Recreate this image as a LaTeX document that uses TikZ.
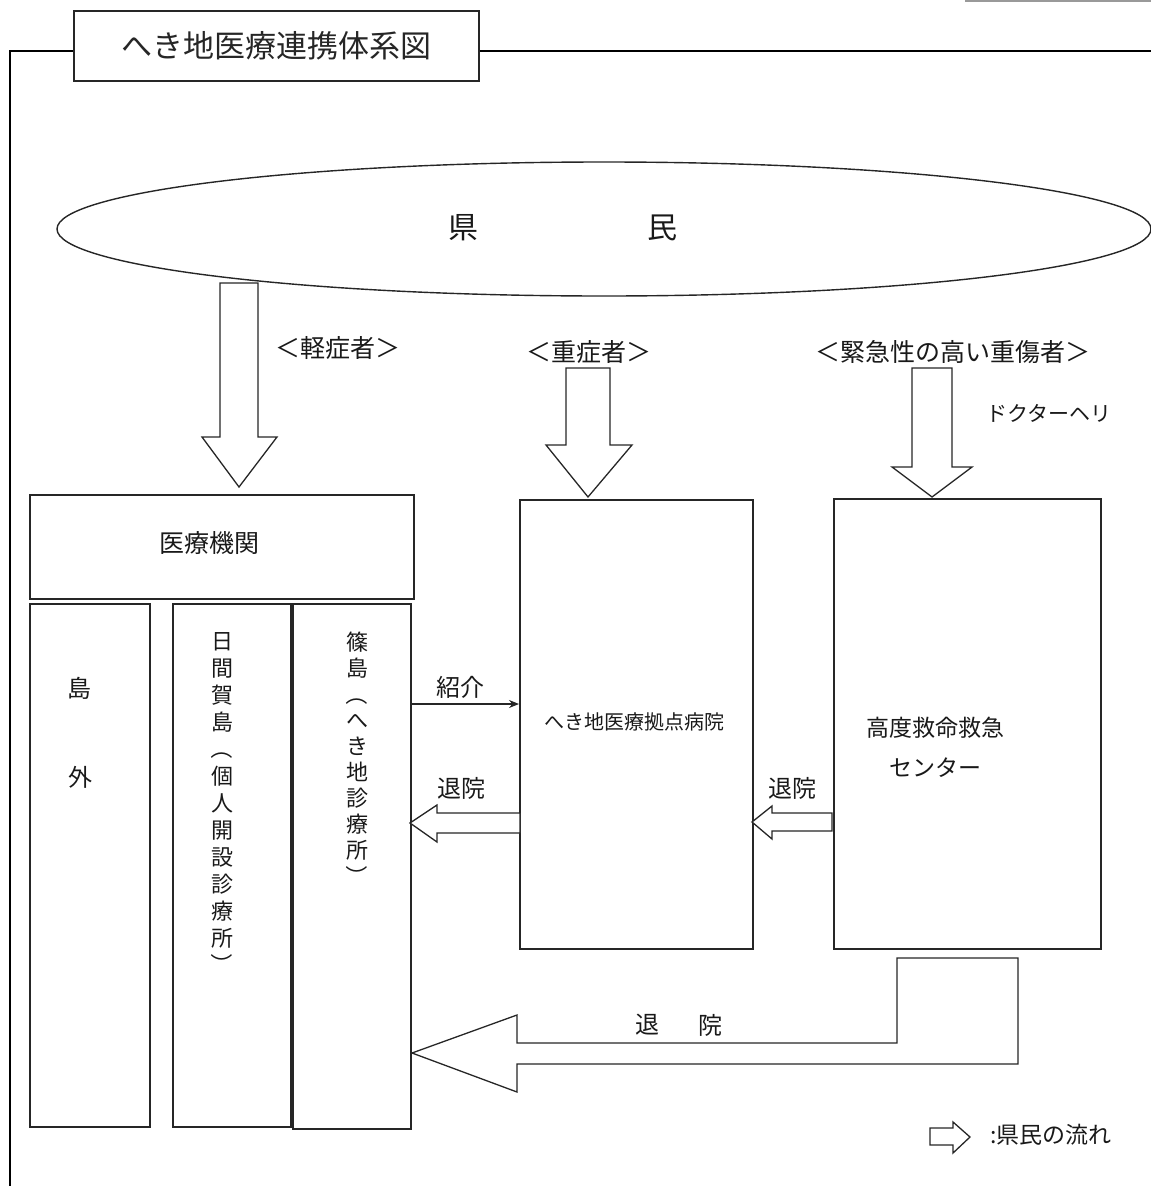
\documentclass[tikz,border=0pt]{standalone}
\usepackage{fontspec}
\usepackage{graphicx}
\newfontfamily\jp{Noto Sans CJK JP}
\usetikzlibrary{shapes.geometric,arrows.meta}
\tikzset{
  box/.style={draw=black!85, line width=1.5pt, inner sep=0pt, anchor=north west},
  blk/.style={draw=black!85, line width=1.3pt, fill=white, line join=miter},
  lbl/.style={text=black!90, inner sep=0pt},
}
\newcommand{\jfs}[1]{\jp\fontsize{#1}{#1}\selectfont}
\newcommand{\vlp}{\rotatebox[origin=c]{-90}{（}}
\newcommand{\vrp}{\rotatebox[origin=c]{-90}{）}}
\begin{document}
\begin{tikzpicture}[x=1pt,y=-1pt]
\useasboundingbox (0,0) rectangle (1151,1186);
% top-right stray line
\draw[black!40, line width=2pt] (965,1) -- (1151,1);
% title and frame
\node[box, minimum width=405pt, minimum height=70pt] (title) at (73,10) {};
\node[lbl, font=\jfs{31}, text=black!85] (titletext) at (title.center) {へき地医療連携体系図};
\coordinate (ftl) at (10,51);
\coordinate (fbl) at (10,1186);
\coordinate (ftr) at (1151,51);
\draw[black, line width=1.6pt] (title.west |- ftl) -- (ftl) -- (fbl);
\draw[black, line width=1.6pt] (title.east |- ftl) -- (ftr);
% ellipse
\node[draw=black!85, line width=1.4pt, ellipse, inner sep=0pt, minimum width=1094pt, minimum height=134pt] (kenmin) at (604,229) {};
\node[lbl, font=\jfs{30}] (ken) at (463,228) {県};
\node[lbl, font=\jfs{30}] (min) at (662,228) {民};
% boxes
\node[box, minimum width=384pt, minimum height=104pt] (iryo) at (29,494) {};
\node[lbl, font=\jfs{25}] (iryot) at (209,543) {医療機関};
\node[box, minimum width=120pt, minimum height=523pt] (c1) at (29,603) {};
\node[box, minimum width=118pt, minimum height=523pt] (c2) at (172,603) {};
\node[box, minimum width=118pt, minimum height=525pt] (c3) at (292,603) {};
\node[box, minimum width=233pt, minimum height=449pt] (hosp) at (519,499) {};
\node[box, minimum width=267pt, minimum height=450pt] (center) at (833,498) {};
% column texts
\node[lbl, font=\jfs{24}] (shima) at (79,688) {島};
\node[lbl, font=\jfs{24}] (soto) at (80,777) {外};
\node[lbl, font=\jp\fontsize{22}{27}\selectfont, align=center, anchor=north] (c2t) at (222,632) {日\\間\\賀\\島\\\vlp\\個\\人\\開\\設\\診\\療\\所\\\vrp};
\node[lbl, font=\jp\fontsize{22}{26}\selectfont, align=center, anchor=north] (c3t) at (357,632) {篠\\島\\\vlp\\へ\\き\\地\\診\\療\\所\\\vrp};
\node[lbl, font=\jfs{20}] (hospt) at (634,722) {へき地医療拠点病院};
\node[lbl, font=\jfs{23}] (cent1) at (935,728) {高度救命救急};
\node[lbl, font=\jfs{23}] (cent2) at (935,768) {センター};
% labels
\node[lbl, font=\jfs{25}] (l1) at (338,348) {＜軽症者＞};
\node[lbl, font=\jfs{25}] (l2) at (589,352) {＜重症者＞};
\node[lbl, font=\jfs{25}] (l3) at (953,352) {＜緊急性の高い重傷者＞};
\node[lbl, font=\jfs{21}] (heli) at (1049,413) {ドクターヘリ};
\node[lbl, font=\jfs{24}] (shokai) at (460,687) {紹介};
\node[lbl, font=\jfs{24}] (tai1) at (461,788) {退院};
\node[lbl, font=\jfs{24}] (tai2) at (792,788) {退院};
\node[lbl, font=\jfs{24}] (tai3a) at (647,1025) {退};
\node[lbl, font=\jfs{24}] (tai3b) at (710,1025) {院};
% down block arrows
\draw[blk] (220,283) -- (258,283) -- (258,437) -- (277,437) -- (239,487) -- (202,437) -- (220,437) -- cycle;
\draw[blk] (566,368) -- (610,368) -- (610,445) -- (632,445) -- (588,497) -- (546,445) -- (566,445) -- cycle;
\draw[blk] (912,368) -- (952,368) -- (952,467) -- (972,467) -- (932,497) -- (892,467) -- (912,467) -- cycle;
% left block arrows
\draw[blk] (520,813) -- (437,813) -- (437,805) -- (410,823) -- (437,842) -- (437,833) -- (520,833) -- cycle;
\draw[blk] (832,813) -- (772,813) -- (772,806) -- (752,822) -- (772,839) -- (772,831) -- (832,831) -- cycle;
% big return arrow
\draw[blk] (897,958) -- (1018,958) -- (1018,1064) -- (517,1064) -- (517,1092) -- (412,1053) -- (517,1015) -- (517,1043) -- (897,1043) -- cycle;
% referral arrow
\coordinate (refy) at (0,704);
\draw[black!85, line width=1.2pt, -{Stealth[length=10pt,width=8pt]}] (c3.east |- refy) -- (hosp.west |- refy);
% legend
\draw[blk] (930,1128) -- (953,1128) -- (953,1122) -- (970,1137) -- (953,1153) -- (953,1145) -- (930,1145) -- cycle;
\node[lbl, font=\jfs{23}, anchor=west] (legend) at (990,1135) {:県民の流れ};
\end{tikzpicture}
\end{document}
